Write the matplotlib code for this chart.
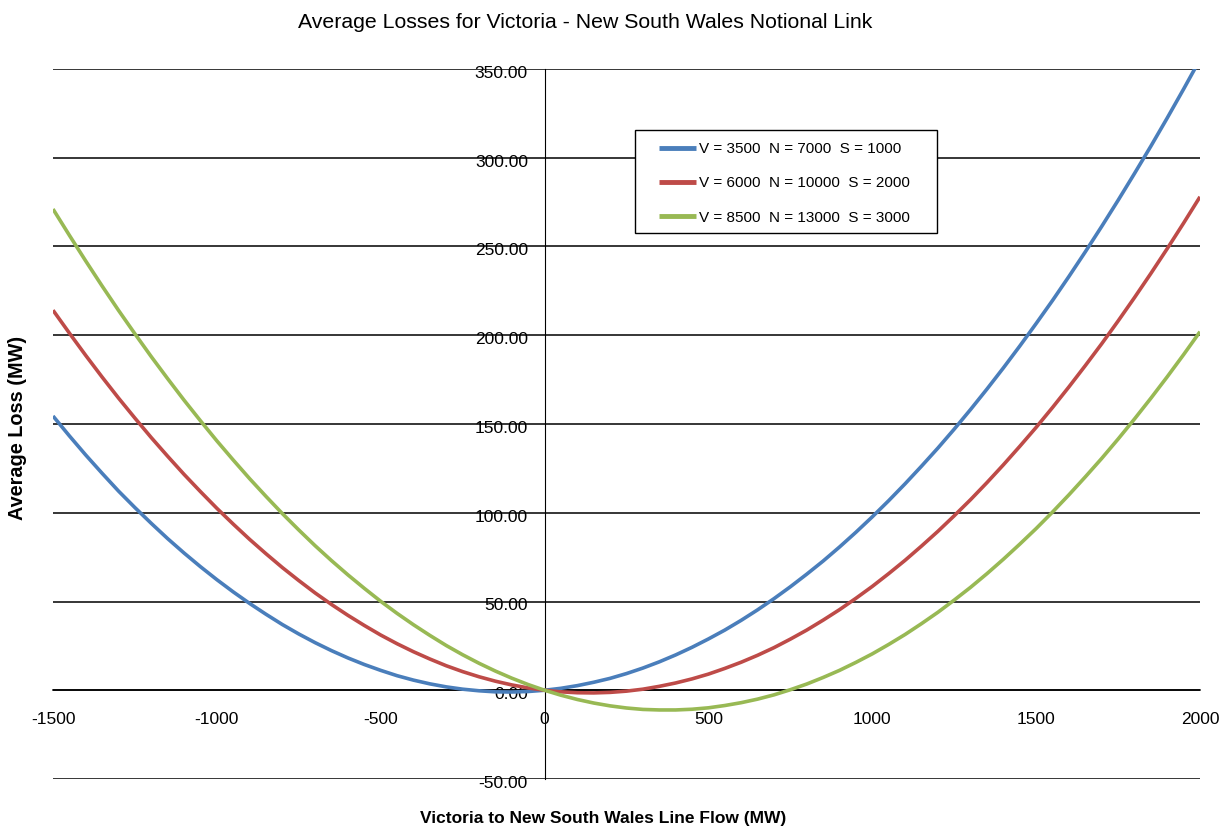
import matplotlib
matplotlib.use("Agg")
import matplotlib.pyplot as plt
import matplotlib.transforms as mtransforms
from matplotlib.patches import Rectangle

plt.rcParams['axes.unicode_minus'] = False

# line flow (MW), read every 50 MW
flow = list(range(-1500, 2001, 50))

loss_v3500 = [154.5, 143.3, 132.5, 122.2, 112.2, 102.9, 94.0, 85.4, 77.3, 69.6,
              62.3, 55.4, 48.9, 42.8, 37.0, 31.7, 26.8, 22.3, 18.2, 14.5,
              11.2, 8.2, 5.7, 3.6, 1.9, 0.6, -0.3, -0.9, -1.0, -0.7,
              0.0, 1.1, 2.6, 4.5, 6.7, 9.4, 12.5, 16.0, 19.9, 24.2,
              28.9, 33.9, 39.4, 45.3, 51.6, 58.3, 65.4, 72.8, 80.7, 89.0,
              97.7, 106.8, 116.3, 126.2, 136.4, 147.1, 158.2, 169.7, 181.6, 193.9,
              206.6, 219.6, 233.1, 247.0, 261.3, 276.0, 291.1, 306.5, 322.4, 338.7,
              355.4]

loss_v6000 = [214.1, 201.2, 188.6, 176.4, 164.6, 153.3, 142.3, 131.8, 121.6, 111.9,
              102.5, 93.6, 85.0, 76.9, 69.1, 61.8, 54.8, 48.3, 42.2, 36.5,
              31.1, 26.2, 21.7, 17.6, 13.8, 10.5, 7.6, 5.1, 3.0, 1.3,
              0.0, -0.9, -1.4, -1.5, -1.2, -0.5, 0.6, 2.2, 4.1, 6.4,
              9.1, 12.3, 15.8, 19.7, 24.0, 28.8, 33.9, 39.5, 45.4, 51.8,
              58.5, 65.7, 73.2, 81.2, 89.5, 98.3, 107.4, 117.0, 127.0, 137.4,
              148.1, 159.3, 170.9, 182.9, 195.2, 208.0, 221.2, 234.8, 248.8, 263.2,
              278.0]

loss_v8500 = [271.1, 256.3, 241.8, 227.7, 214.0, 200.8, 187.9, 175.5, 163.4, 151.8,
              140.5, 129.7, 119.2, 109.2, 99.5, 90.3, 81.4, 73.0, 65.0, 57.4,
              50.1, 43.3, 36.9, 30.9, 25.2, 20.0, 15.2, 10.8, 6.8, 3.2,
              0.0, -2.8, -5.2, -7.2, -8.8, -10.0, -10.8, -11.1, -11.1, -10.7,
              -9.9, -8.6, -7.0, -5.0, -2.6, 0.3, 3.5, 7.2, 11.2, 15.7,
              20.5, 25.8, 31.4, 37.5, 43.9, 50.8, 58.0, 65.7, 73.8, 82.3,
              91.1, 100.4, 110.1, 120.2, 130.6, 141.5, 152.8, 164.5, 176.6, 189.1,
              202.0]

labels = ['V = 3500  N = 7000  S = 1000',
          'V = 6000  N = 10000  S = 2000',
          'V = 8500  N = 13000  S = 3000']
colors = ['#4A7EBB', '#BE4B48', '#98B954']

xticks = [-1500, -1000, -500, 0, 500, 1000, 1500, 2000]
yticks = [-50, 0, 50, 100, 150, 200, 250, 300, 350]

fnt = ['Liberation Sans Narrow', 'Liberation Sans', 'DejaVu Sans']
W, H = 1227, 832

fig = plt.figure(figsize=(W/100, H/100), dpi=100)
ax = fig.add_axes([53/W, 1-779/H, (1200-53)/W, (779-69)/H])

for ys, lab, c in zip([loss_v3500, loss_v6000, loss_v8500], labels, colors):
    ax.plot(flow, ys, color=c, lw=2.6, label=lab, zorder=3, solid_capstyle='butt')

ax.set_xlim(-1500, 2000)
ax.set_ylim(-50, 350)
ax.set_xticks(xticks)
ax.set_yticks(yticks)
ax.set_yticklabels([f'{v:.2f}' for v in yticks])

ax.yaxis.grid(True, color='black', lw=1.1)
ax.set_axisbelow(True)

for s in ['top', 'right']:
    ax.spines[s].set_visible(False)
ax.spines['left'].set_position(('data', 0))
ax.spines['left'].set_linewidth(0.8)
ax.spines['bottom'].set_position(('data', 0))
ax.spines['bottom'].set_linewidth(1.1)

ax.tick_params(axis='both', length=0)
ax.tick_params(axis='x', pad=16)
ax.tick_params(axis='y', pad=12)
shift = mtransforms.ScaledTranslation(0, -3/100, fig.dpi_scale_trans)
for t in ax.get_xticklabels() + ax.get_yticklabels():
    t.set_family(fnt)
    t.set_fontsize(12.5)
for t in ax.get_yticklabels():
    t.set_transform(t.get_transform() + shift)

fig.text(585/W, 1-22/H, 'Average Losses for Victoria - New South Wales Notional Link',
         ha='center', va='center', fontsize=15.3, family=fnt)
fig.text(603/W, 1-818/H, 'Victoria to New South Wales Line Flow (MW)',
         ha='center', va='center', fontsize=12.5, fontweight='bold', family=fnt)
fig.text(18/W, 1-428/H, 'Average Loss (MW)', rotation=90,
         ha='center', va='center', fontsize=14.3, fontweight='bold', family='Liberation Sans')

# legend box drawn separately so the padding can match the original
box = Rectangle((635/W, 1-233/H), (937-635)/W, (233-130)/H, transform=fig.transFigure,
                facecolor='white', edgecolor='black', lw=1.0, zorder=4, clip_on=False)
ax.add_patch(box)
leg = ax.legend(loc='upper left', bbox_to_anchor=(659/W, 1-142/H),
                bbox_transform=fig.transFigure, borderaxespad=0, borderpad=0,
                frameon=False, handlelength=2.4, labelspacing=1.33, handletextpad=0.25,
                prop={'family': 'Liberation Sans', 'size': 11})
leg.set_zorder(5)
for h in leg.get_lines():
    h.set_linewidth(3.5)

fig.savefig('out.png', dpi=100)
